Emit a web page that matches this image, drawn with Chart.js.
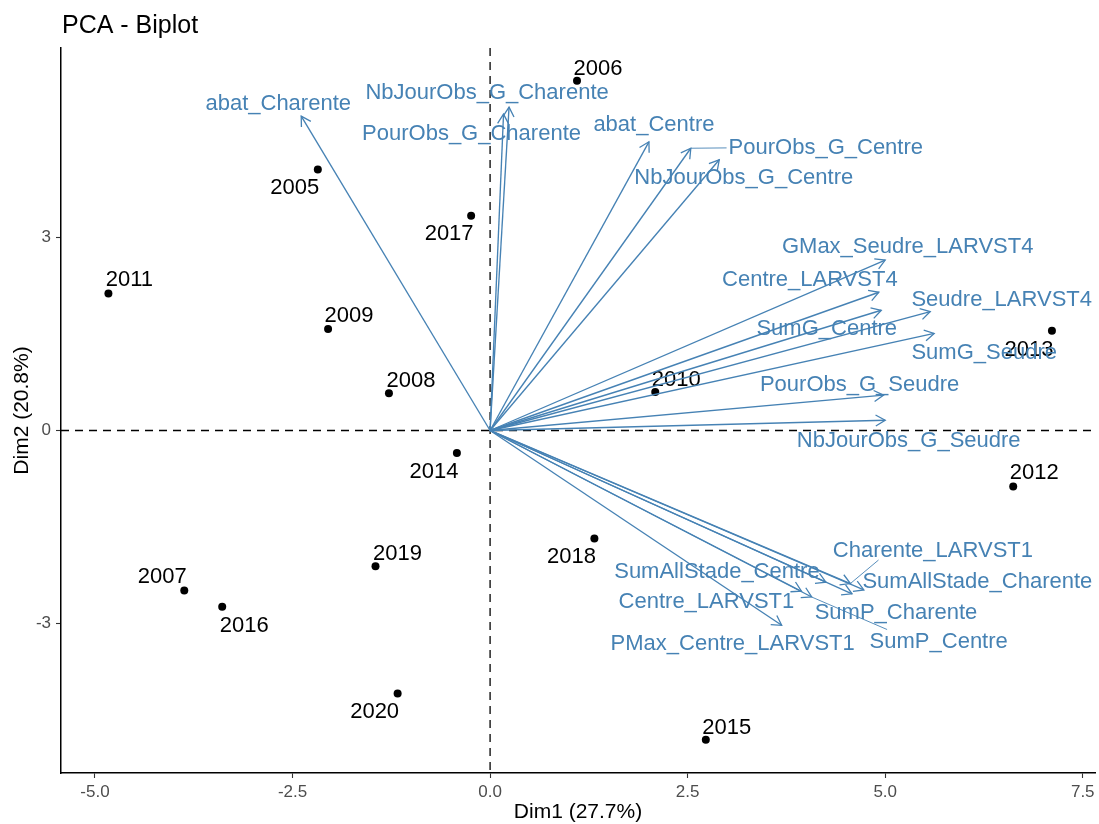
<!DOCTYPE html>
<html>
<head>
<meta charset="utf-8">
<title>PCA - Biplot</title>
<script src="https://cdn.jsdelivr.net/npm/chart.js@4.4.0/dist/chart.umd.min.js"></script>
<style>
  html, body { margin: 0; padding: 0; background: #ffffff; }
  canvas { display: block; }
</style>
</head>
<body>
<canvas id="biplot" width="1099" height="824"></canvas>
<script>
// Individuals (years): coordinates on Dim1 / Dim2
const years   = ['2005', '2006', '2007', '2008', '2009', '2010', '2011', '2012',
                 '2013', '2014', '2015', '2016', '2017', '2018', '2019', '2020'];
const indDim1 = [-2.18, 1.10, -3.87, -1.28, -2.05, 2.09, -4.83, 6.62,
                  7.11, -0.42, 2.73, -3.39, -0.24, 1.32, -1.45, -1.17];
const indDim2 = [ 4.06, 5.44, -2.49, 0.58, 1.58, 0.60, 2.13, -0.87,
                  1.55, -0.35, -4.81, -2.74, 3.34, -1.68, -2.11, -4.09];

// Variables: arrow tips on Dim1 / Dim2
const varNames = ['abat_Charente', 'NbJourObs_G_Charente', 'PourObs_G_Charente',
                  'abat_Centre', 'PourObs_G_Centre', 'NbJourObs_G_Centre',
                  'GMax_Seudre_LARVST4', 'Centre_LARVST4', 'SumG_Centre',
                  'Seudre_LARVST4', 'SumG_Seudre', 'PourObs_G_Seudre',
                  'NbJourObs_G_Seudre', 'Charente_LARVST1', 'SumAllStade_Centre',
                  'SumAllStade_Charente', 'Centre_LARVST1', 'SumP_Charente',
                  'PMax_Centre_LARVST1', 'SumP_Centre'];
const varDim1 = [-2.39, 0.24, 0.17, 2.01, 2.54, 2.90, 5.00, 4.92, 4.95, 5.57,
                  5.62, 4.98, 5.00, 4.56, 4.25, 4.73, 3.94, 4.58, 3.69, 4.07];
const varDim2 = [ 4.89, 5.03, 4.92, 4.49, 4.39, 4.21, 2.65, 2.15, 1.87, 1.85,
                  1.51, 0.55, 0.16, -2.38, -2.36, -2.48, -2.50, -2.54, -3.03, -2.59];

// Axis ticks
const xTicks = [-5, -2.5, 0, 2.5, 5, 7.5];
const yTicks = [-3, 0, 3];

// Repelled label placement: pixel offset of each label centre from its mark
const indLabelOffsets = [[-23, 17], [21, -14], [-22, -15], [22, -14], [21, -15], [21, -14],
                         [21, -15], [21, -15], [-23, 17], [-23, 17], [21, -14], [22, 17.5],
                         [-22, 16.5], [-23, 17], [22, -14], [-23, 17]];
const varLabelOffsets = [[-23, -14], [-22, -15.5], [-32, 17.5], [5, -18.5], [135, -2.5],
                         [24.5, 16.5], [22.5, -14.5], [-69, -14.5], [-54.5, 16.5], [71.5, -13.5],
                         [50, 17.5], [-24, -12], [23.5, 18.5], [82.5, -34.5], [-109, -12.5],
                         [113.5, -10], [-95, 9], [44, 17.5], [-49, 16.5], [127, 43.5]];

const FONT = '"Liberation Sans", Arial, Helvetica, sans-serif';
const STEEL = '#4682B4';
const LABEL_SIZE = 22;

function drawCentredText(ctx, text, cx, cy, color, size) {
  ctx.font = size + 'px ' + FONT;
  ctx.fillStyle = color;
  ctx.textAlign = 'center';
  ctx.textBaseline = 'alphabetic';
  ctx.fillText(text, cx, cy + 0.716 * size / 2);
}

const biplotLayer = {
  id: 'biplotLayer',
  beforeDatasetsDraw(chart) {
    const { ctx, chartArea: a, scales: { x, y } } = chart;
    const x0 = x.getPixelForValue(0);
    const y0 = y.getPixelForValue(0);
    ctx.save();
    ctx.strokeStyle = '#000000';
    ctx.lineWidth = 1.3;
    ctx.setLineDash([8, 6]);
    ctx.beginPath();
    ctx.moveTo(a.left, y0); ctx.lineTo(a.right, y0);
    ctx.moveTo(x0, a.top);  ctx.lineTo(x0, a.bottom);
    ctx.stroke();
    ctx.setLineDash([]);
    years.forEach((yr, i) => {
      const px = x.getPixelForValue(indDim1[i]);
      const py = y.getPixelForValue(indDim2[i]);
      const [dx, dy] = indLabelOffsets[i];
      drawCentredText(ctx, yr, px + dx, py + dy, '#000000', LABEL_SIZE);
    });
    ctx.restore();
  },
  afterDatasetsDraw(chart) {
    const { ctx, chartArea: a, scales: { x, y } } = chart;
    const ox = x.getPixelForValue(0);
    const oy = y.getPixelForValue(0);
    ctx.save();
    // open arrowheads at each variable tip
    ctx.strokeStyle = STEEL;
    ctx.lineWidth = 1.3;
    const head = 11, spread = Math.PI / 6;
    varNames.forEach((name, i) => {
      const tx = x.getPixelForValue(varDim1[i]);
      const ty = y.getPixelForValue(varDim2[i]);
      const ang = Math.atan2(ty - oy, tx - ox);
      ctx.beginPath();
      ctx.moveTo(tx - head * Math.cos(ang - spread), ty - head * Math.sin(ang - spread));
      ctx.lineTo(tx, ty);
      ctx.lineTo(tx - head * Math.cos(ang + spread), ty - head * Math.sin(ang + spread));
      ctx.stroke();
    });
    // variable labels, with a leader segment when the label sits away from its tip
    varNames.forEach((name, i) => {
      const tx = x.getPixelForValue(varDim1[i]);
      const ty = y.getPixelForValue(varDim2[i]);
      const [dx, dy] = varLabelOffsets[i];
      const cx = tx + dx, cy = ty + dy;
      ctx.font = LABEL_SIZE + 'px ' + FONT;
      const hw = ctx.measureText(name).width / 2 + 2;
      const hh = LABEL_SIZE * 0.5;
      const gx = Math.max(Math.abs(dx) - hw, 0);
      const gy = Math.max(Math.abs(dy) - hh, 0);
      if (Math.hypot(gx, gy) > 14) {
        // blend of the box point along the centre line and the nearest box point
        const tX = hw / Math.abs(dx || 1e-9);
        const tY = hh / Math.abs(dy || 1e-9);
        const t = 1 - Math.min(tX, tY, 1);
        const lx = tx + dx * t, ly = ty + dy * t;
        const nx = Math.min(Math.max(tx, cx - hw), cx + hw);
        const ny = Math.min(Math.max(ty, cy - hh), cy + hh);
        ctx.strokeStyle = STEEL;
        ctx.lineWidth = 0.9;
        ctx.beginPath();
        ctx.moveTo(tx, ty);
        ctx.lineTo((lx + nx) / 2, (ly + ny) / 2);
        ctx.stroke();
      }
      drawCentredText(ctx, name, cx, cy, STEEL, LABEL_SIZE);
    });
    // plot title
    ctx.font = '25px ' + FONT;
    ctx.fillStyle = '#000000';
    ctx.textAlign = 'left';
    ctx.textBaseline = 'alphabetic';
    ctx.fillText('PCA - Biplot', a.left + 1, 33);
    ctx.restore();
  }
};

const arrowSets = varNames.map((name, i) => ({
  label: name,
  data: [{ x: 0, y: 0 }, { x: varDim1[i], y: varDim2[i] }],
  showLine: true,
  borderColor: STEEL,
  borderWidth: 1.35,
  pointRadius: 0,
  fill: false
}));

const pointSet = {
  label: 'individuals',
  data: years.map((yr, i) => ({ x: indDim1[i], y: indDim2[i] })),
  showLine: false,
  pointRadius: 4,
  pointBackgroundColor: '#000000',
  pointBorderWidth: 0,
  pointBorderColor: '#000000'
};

const tickFont = { family: FONT, size: 17 };
const titleFont = { family: FONT, size: 21, lineHeight: 1.1 };

new Chart(document.getElementById('biplot'), {
  type: 'scatter',
  data: { datasets: [...arrowSets, pointSet] },
  options: {
    responsive: false,
    animation: false,
    devicePixelRatio: 1,
    layout: { padding: { top: 48, right: 2, left: 0, bottom: 0 } },
    plugins: { legend: { display: false }, tooltip: { enabled: false }, title: { display: false } },
    scales: {
      x: {
        type: 'linear',
        min: -5.43,
        max: 7.655,
        afterBuildTicks: (axis) => { axis.ticks = xTicks.map(v => ({ value: v })); },
        afterFit: (axis) => { axis.height = 51; },
        grid: { drawOnChartArea: false, drawTicks: true, tickLength: 5, tickColor: '#333333', tickWidth: 1.1 },
        border: { display: true, color: '#000000', width: 1.5 },
        ticks: {
          color: '#4D4D4D', font: tickFont, padding: 4, autoSkip: false, maxRotation: 0,
          callback: (v) => Number(v).toFixed(1)
        },
        title: { display: true, text: 'Dim1 (27.7%)', color: '#000000', font: titleFont, padding: 0 }
      },
      y: {
        type: 'linear',
        min: -5.327,
        max: 5.949,
        afterBuildTicks: (axis) => { axis.ticks = yTicks.map(v => ({ value: v })); },
        afterFit: (axis) => { axis.width = 61; },
        grid: { drawOnChartArea: false, drawTicks: true, tickLength: 5, tickColor: '#333333', tickWidth: 1.1 },
        border: { display: true, color: '#000000', width: 1.5 },
        ticks: {
          color: '#4D4D4D', font: tickFont, padding: 5, autoSkip: false,
          callback: (v) => String(v)
        },
        title: { display: true, text: 'Dim2 (20.8%)', color: '#000000', font: titleFont, padding: { top: 11, bottom: 0 } }
      }
    }
  },
  plugins: [biplotLayer]
});
</script>
</body>
</html>
